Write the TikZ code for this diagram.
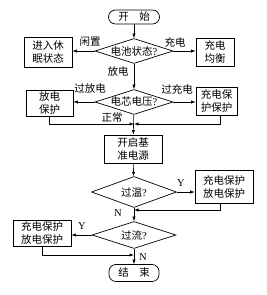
\documentclass[tikz,border=0pt]{standalone}
\usepackage{fontspec}
\setmainfont{Liberation Serif}
\newfontfamily\cjk{Noto Sans CJK SC}
\usetikzlibrary{shapes.geometric,arrows.meta}
\begin{document}
\begin{tikzpicture}[x=1pt,y=-1pt,
  every node/.style={font=\fontsize{10.5}{12.5}\selectfont},
  box/.style={draw,line width=0.7pt,inner sep=0pt,align=center},
  dia/.style={draw,diamond,line width=0.7pt,inner sep=0pt},
  term/.style={draw,rectangle,rounded corners=7pt,line width=0.7pt,inner sep=0pt},
  arr/.style={-{Latex[length=4.5pt,width=3.2pt]},line width=0.6pt},
  lbl/.style={inner sep=0pt}]
\useasboundingbox (0,0) rectangle (267,295);
% terminals
\node[term,minimum width=51pt,minimum height=14pt] (start) at (134,17) {\cjk 开\quad 始};
\node[term,minimum width=50pt,minimum height=17pt] (stop) at (134,273) {\cjk 结\quad 束};
% decisions
\node[dia,minimum width=78pt,minimum height=25pt,label={center:{\cjk 电池状态}?}] (d1) at (134,51) {};
\node[dia,minimum width=78pt,minimum height=25pt,label={center:{\cjk 电芯电压}?}] (d2) at (134,102) {};
\node[dia,minimum width=85pt,minimum height=31pt,label={center:{\cjk 过温}?}] (d3) at (134,192) {};
\node[dia,minimum width=84pt,minimum height=27pt,label={center:{\cjk 过流}?}] (d4) at (134,235) {};
% boxes
\node[box,minimum width=48pt,minimum height=30pt] (l1) at (48,52) {\cjk 进入休\\\cjk 眠状态};
\node[box,minimum width=38pt,minimum height=28pt] (r1) at (215,52) {\cjk 充电\\\cjk 均衡};
\node[box,minimum width=47pt,minimum height=26pt] (l2) at (49.5,103) {\cjk 放电\\\cjk 保护};
\node[box,minimum width=41pt,minimum height=28pt] (r2) at (216.5,101) {\cjk 充电保\\\cjk 护保护};
\node[box,minimum width=58pt,minimum height=28pt] (b) at (133,149) {\cjk 开启基\\\cjk 准电源};
\node[box,minimum width=58pt,minimum height=33pt] (r3) at (224,187) {\cjk 充电保护\\\cjk 放电保护};
\node[box,minimum width=58pt,minimum height=26pt] (l4) at (42,233) {\cjk 充电保护\\\cjk 放电保护};
% merge points
\coordinate (m1) at (134,124);
\coordinate (m2) at (134,210);
\coordinate (m3) at (134,255);
% connectors
\draw[arr] (start) -- (d1);
\draw[arr] (d1.west) -- (d1.west -| l1.east);
\draw[arr] (d1.east) -- (d1.east -| r1.west);
\draw[arr] (d1) -- (d2);
\draw[arr] (d2.west) -- (d2.west -| l2.east);
\draw[arr] (d2.east) -- (d2.east -| r2.west);
\draw[arr] (d2) -- (b);
\draw[arr] (l2.south) |- (m1);
\draw[arr] ([xshift=3.5pt]r2.south) |- (m1);
\draw[arr] (b) -- (d3);
\draw[arr] (d3.east) -- (d3.east -| r3.west);
\draw[arr] ([xshift=-4pt]r3.south) |- (m2);
\draw[arr] (d3) -- (d4);
\draw[arr] (d4.west) -- (d4.west -| l4.east);
\draw[arr] (l4.south) |- (m3);
\draw[arr] (d4) -- (stop);
% labels
\node[lbl] (t1) at (90,42) {\cjk 闲置};
\node[lbl] (t2) at (175,42) {\cjk 充电};
\node[lbl] (t3) at (118,72) {\cjk 放电};
\node[lbl] (t4) at (90,89) {\cjk 过放电};
\node[lbl] (t5) at (177,89) {\cjk 过充电};
\node[lbl] (t6) at (112,118) {\cjk 正常};
\node[lbl] (t7) at (181,183) {Y};
\node[lbl] (t8) at (118,213) {N};
\node[lbl] (t9) at (82,226) {Y};
\node[lbl] (t10) at (143,257) {N};
\end{tikzpicture}
\end{document}
